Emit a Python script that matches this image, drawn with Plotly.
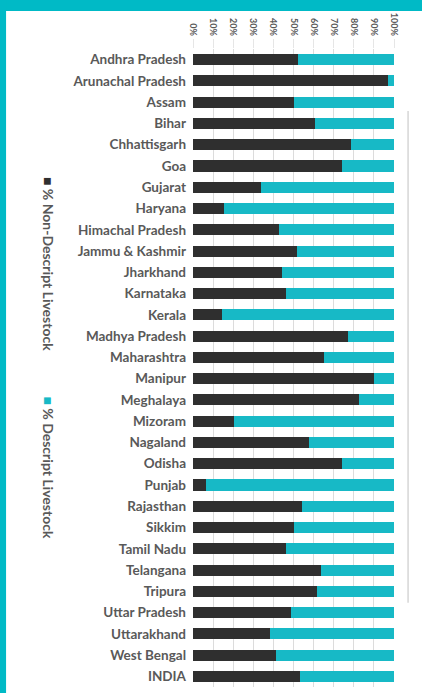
import plotly.graph_objects as go

states = [
    "Andhra Pradesh", "Arunachal Pradesh", "Assam", "Bihar", "Chhattisgarh", "Goa",
    "Gujarat", "Haryana", "Himachal Pradesh", "Jammu & Kashmir", "Jharkhand", "Karnataka",
    "Kerala", "Madhya Pradesh", "Maharashtra", "Manipur", "Meghalaya", "Mizoram",
    "Nagaland", "Odisha", "Punjab", "Rajasthan", "Sikkim", "Tamil Nadu", "Telangana",
    "Tripura", "Uttar Pradesh", "Uttarakhand", "West Bengal", "INDIA",
]
non_descript = [
    52.0, 97.2, 50.0, 60.8, 78.4, 73.9,
    33.7, 15.4, 42.9, 51.5, 44.4, 46.2,
    14.5, 77.2, 65.3, 90.2, 82.7, 20.4,
    57.6, 74.3, 6.6, 54.0, 50.3, 46.5, 63.5,
    61.5, 48.7, 38.5, 41.5, 53.2,
]
descript = [round(100 - v, 1) for v in non_descript]
tick_vals = list(range(0, 101, 10))
tick_text = [f"<b>{v}%</b>" for v in tick_vals]

DARK = "#2f2f2f"
CYAN = "#17b9c6"
TEXT = "#595959"
FONT = "Lato"

fig = go.Figure()
fig.add_trace(go.Bar(y=states, x=non_descript, orientation="h", name="% Non-Descript Livestock",
                     marker=dict(color=DARK, line=dict(width=0))))
fig.add_trace(go.Bar(y=states, x=descript, orientation="h", name="% Descript Livestock",
                     marker=dict(color=CYAN, line=dict(width=0))))

fig.update_layout(
    barmode="stack",
    bargap=0.48,
    width=422, height=693,
    margin=dict(l=193, r=28, t=49, b=6),
    paper_bgcolor="white", plot_bgcolor="white",
    showlegend=False,
    font=dict(family=FONT, color=TEXT),
)
fig.update_xaxes(
    side="top", range=[0, 100], tickvals=tick_vals, ticktext=tick_text,
    tickangle=90, tickfont=dict(size=9, family=FONT, color=TEXT),
    showgrid=True, gridcolor="#dcdcdc", gridwidth=1, zeroline=False,
    ticks="outside", ticklen=9, tickcolor="#e6e6e6", showline=False,
    automargin=False,
)
fig.update_yaxes(
    categoryorder="array", categoryarray=states, autorange="reversed",
    tickvals=states, ticktext=[f"<b>{s}</b>" for s in states],
    tickfont=dict(size=13.5, family=FONT, color=TEXT),
    ticklabelstandoff=6, showgrid=False, zeroline=False, automargin=False,
)

# border strips and the faint separator line on the right
fig.add_shape(type="rect", xref="paper", yref="paper", x0=-1.0, x1=1.2, y0=1.0596, y1=1.09,
              fillcolor="#00bac6", line_width=0)
fig.add_shape(type="rect", xref="paper", yref="paper", x0=-1.0, x1=-0.930, y0=-0.02, y1=1.09,
              fillcolor="#00bac6", line_width=0)
fig.add_shape(type="line", xref="paper", yref="paper", x0=1.07, x1=1.07, y0=0.132, y1=0.903,
              line=dict(color="#d6d6d6", width=1.5))

# vertical legend on the left
fig.add_annotation(xref="paper", yref="paper", x=-0.77, y=0.803, yanchor="top",
                   text=f"<b><span style='color:{DARK}'>■</span> % Non-Descript Livestock</b>",
                   textangle=90, showarrow=False,
                   font=dict(size=14, family=FONT, color=TEXT, weight="bold"))
fig.add_annotation(xref="paper", yref="paper", x=-0.77, y=0.459, yanchor="top",
                   text=f"<b><span style='color:{CYAN}'>■</span> % Descript Livestock</b>",
                   textangle=90, showarrow=False,
                   font=dict(size=14, family=FONT, color=TEXT, weight="bold"))

fig.write_html("out.html", config={"displayModeBar": False},
               post_script="document.body.style.margin='0';")
